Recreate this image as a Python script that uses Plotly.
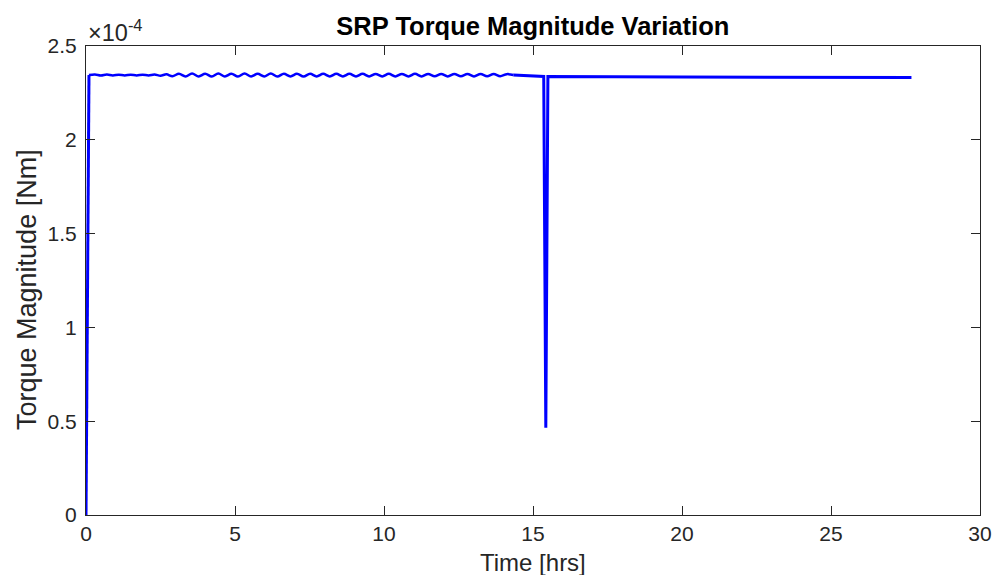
import plotly.graph_objects as go

# Time [hrs] and torque magnitude [x1e-4 Nm]
ramp_t = [0.0, 0.1]
ramp_y = [0.0, 2.345]

osc_t = [0.1, 0.3, 0.5, 0.7, 0.9, 1.1, 1.3, 1.5, 1.7, 1.9, 2.1, 2.3, 2.5, 2.7,
         2.9, 3.12, 3.34, 3.56, 3.78, 4.0, 4.22, 4.44, 4.66, 4.88, 5.1, 5.32, 5.54,
         5.76, 5.98, 6.2, 6.42, 6.64, 6.86, 7.08, 7.3, 7.52, 7.74, 7.96, 8.18, 8.4,
         8.62, 8.84, 9.06, 9.28, 9.5, 9.72, 9.94, 10.16, 10.38, 10.6, 10.82, 11.04,
         11.26, 11.48, 11.7, 11.92, 12.14, 12.36, 12.58, 12.8, 13.02, 13.24, 13.46,
         13.68, 13.9, 14.12, 14.34]
osc_y = [2.345, 2.348, 2.343, 2.348, 2.343, 2.347, 2.343, 2.347, 2.343, 2.347, 2.343, 2.348, 2.342, 2.349,
         2.339, 2.352, 2.338, 2.353, 2.338, 2.352, 2.337, 2.353, 2.338, 2.352, 2.337, 2.353, 2.338,
         2.352, 2.338, 2.353, 2.337, 2.352, 2.338, 2.352, 2.337, 2.352, 2.338, 2.352, 2.338, 2.352,
         2.338, 2.352, 2.338, 2.352, 2.338, 2.351, 2.338, 2.352, 2.338, 2.351, 2.338, 2.352,
         2.338, 2.351, 2.339, 2.351, 2.338, 2.351, 2.339, 2.351, 2.338, 2.351, 2.339,
         2.351, 2.339, 2.350, 2.345]

tail_t = [14.34, 15.36, 15.43, 15.50, 20.0, 25.0, 27.7]
tail_y = [2.345, 2.338, 0.465, 2.337, 2.335, 2.333, 2.332]

x_ticks = [0, 5, 10, 15, 20, 25, 30]
y_ticks = [0, 0.5, 1, 1.5, 2, 2.5]
y_tick_text = ["0", "0.5", "1", "1.5", "2", "2.5"]

blue = "rgb(0,0,255)"
fig = go.Figure()
fig.add_trace(go.Scatter(x=ramp_t, y=ramp_y, mode="lines", line=dict(color=blue, width=3), showlegend=False))
fig.add_trace(go.Scatter(x=osc_t, y=osc_y, mode="lines", line=dict(color=blue, width=2.5, shape="spline"), showlegend=False))
fig.add_trace(go.Scatter(x=tail_t, y=tail_y, mode="lines", line=dict(color=blue, width=3), showlegend=False))

font = "Liberation Sans, Arial, sans-serif"
axcol = "#262626"
fig.update_layout(
    width=995, height=575,
    margin=dict(l=86, r=15, t=46, b=60, autoexpand=False),
    paper_bgcolor="white", plot_bgcolor="white",
    font=dict(family=font, color=axcol, size=21),
    title=dict(text="<b>SRP Torque Magnitude Variation</b>", x=0.5355, xanchor="center",
               y=1 - 26 / 575, yanchor="middle", font=dict(size=25.5, color="black", family=font)),
    xaxis=dict(range=[0, 30], tickvals=x_ticks, ticks="inside", ticklen=9, tickcolor=axcol,
               showline=True, linecolor=axcol, linewidth=1, mirror="ticks", showgrid=False,
               zeroline=False, tickfont=dict(size=21), automargin=False),
    yaxis=dict(range=[0, 2.5], tickvals=y_ticks, ticktext=y_tick_text, ticks="inside", ticklen=9,
               tickcolor=axcol, showline=True, linecolor=axcol, linewidth=1, mirror="ticks",
               showgrid=False, zeroline=False, tickfont=dict(size=21), automargin=False,
               ticklabelstandoff=4),
)
fig.add_annotation(text="×10<sup>-4</sup>", xref="paper", yref="paper", x=0, y=1,
                   xanchor="left", yanchor="bottom", yshift=-2, showarrow=False,
                   font=dict(size=23.5, color=axcol, family=font))
fig.add_annotation(text="Time [hrs]", xref="paper", yref="paper", x=0.5, y=(515 - 562) / 469,
                   xanchor="center", yanchor="middle", showarrow=False,
                   font=dict(size=24, color=axcol, family=font))
fig.add_annotation(text="Torque Magnitude [Nm]", xref="paper", yref="paper", x=(27 - 86) / 894,
                   y=(515 - 290) / 469,
                   xanchor="center", yanchor="middle", textangle=-90, showarrow=False,
                   font=dict(size=27, color=axcol, family=font))
fig.write_html("out.html")
